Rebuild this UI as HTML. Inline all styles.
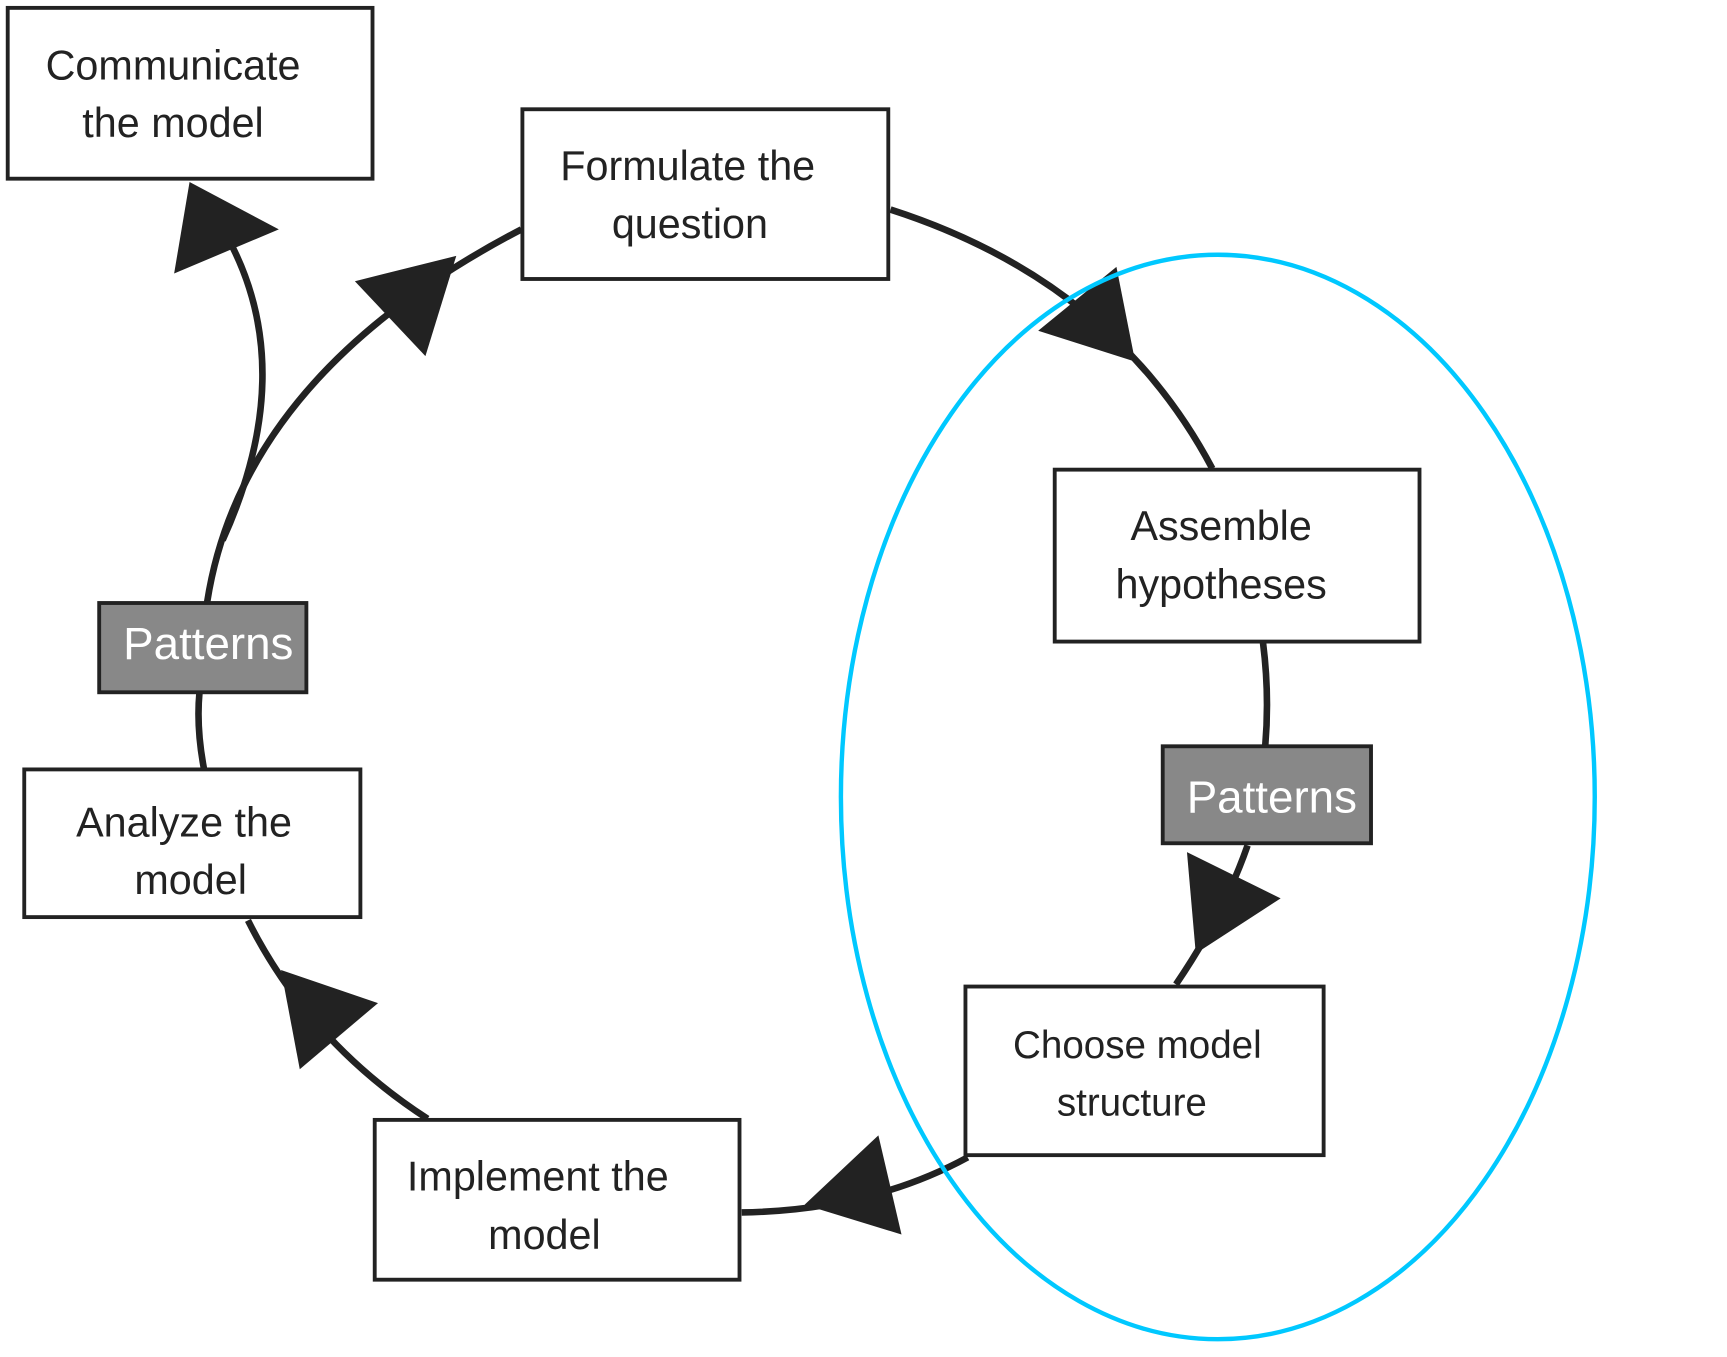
<!DOCTYPE html>
<html><head><meta charset="utf-8"><style>html,body{margin:0;padding:0;background:#fff}svg{display:block}</style></head>
<body>
<svg width="1727" height="1357" viewBox="0 0 1567 1231" xmlns="http://www.w3.org/2000/svg" font-family="Liberation Sans, sans-serif">
<rect width="1567" height="1231" fill="#fff"/>
<g fill="none" stroke="#222" stroke-width="6">
<path d="M808,190 Q1010,255 1100,425"/>
<path d="M1146,583 Q1152,630 1148,677"/>
<path d="M1132,767 Q1110,830 1067,893"/>
<path d="M878,1050 Q790,1098 673,1100"/>
<path d="M388,1015 Q280,945 225,835"/>
<path d="M185,697 Q178,660 181,628"/>
<path d="M188,546 Q220,340 473,208"/>
<path d="M202,490 Q270,340 210,222"/>
</g>
<g fill="#222">
<polygon points="1013,242 942,300 1030,328"/>
<polygon points="1077,773 1162,815 1085,865"/>
<polygon points="797,1030 818,1120 730,1093"/>
<polygon points="255,880 343,910 272,970"/>
<polygon points="322,255 414,232 386,323"/>
<polygon points="172,165 253,208 158,248"/>
</g>
<ellipse cx="1105" cy="723" rx="342" ry="492" fill="none" stroke="#00c8ff" stroke-width="4"/>
<g stroke="#222" stroke-width="3.5" fill="#fff">
<rect x="7" y="7" width="331" height="155"/>
<rect x="474" y="99" width="332" height="154"/>
<rect x="957" y="426" width="331" height="156"/>
<rect x="876" y="895" width="325" height="153"/>
<rect x="340" y="1016" width="331" height="145"/>
<rect x="22" y="698" width="305" height="134"/>
<rect x="1055" y="677" width="189" height="88" fill="#888"/>
<rect x="90" y="547" width="188" height="81" fill="#888"/>
</g>
<g fill="#222" font-size="37.5" text-anchor="middle">
<text x="157" y="72">Communicate</text><text x="157" y="124">the model</text>
<text x="624" y="163">Formulate the</text><text x="626" y="216">question</text>
<text x="1108" y="490">Assemble</text><text x="1108" y="543">hypotheses</text>
<text x="1032" y="960" font-size="35">Choose model</text><text x="1027" y="1012" font-size="35">structure</text>
<text x="488" y="1080">Implement the</text><text x="494" y="1133">model</text>
<text x="167" y="759">Analyze the</text><text x="173" y="811">model</text>
</g>
<g fill="#fff" font-size="41.5" text-anchor="middle">
<text x="1154" y="737">Patterns</text>
<text x="189" y="598">Patterns</text>
</g>
</svg>
</body></html>
